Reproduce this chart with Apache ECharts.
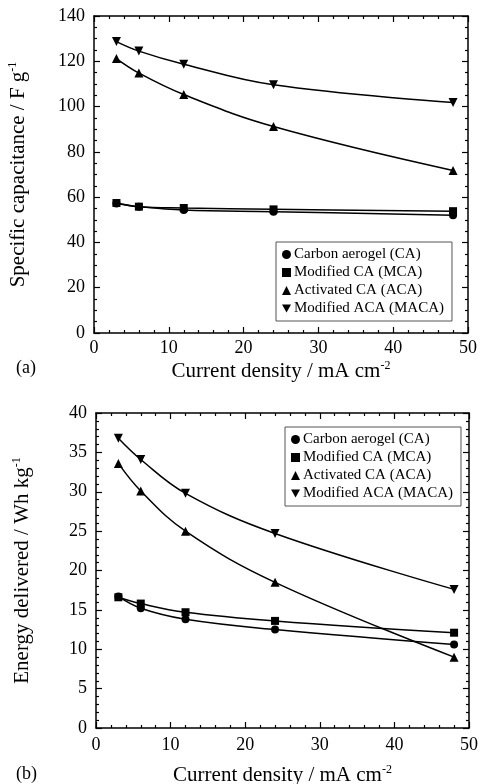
<!DOCTYPE html>
<html><head><meta charset="utf-8">
<script src="https://cdn.jsdelivr.net/npm/echarts@6/dist/echarts.min.js"></script>
<style>html,body{margin:0;padding:0;background:#fff}#c{width:484px;height:784px}</style>
</head><body><div id="c"></div>
<script>
const currentDensity = [3, 6, 12, 24, 48];
const seriesNames = ['Carbon aerogel (CA)', 'Modified CA (MCA)', 'Activated CA (ACA)', 'Modified ACA (MACA)'];
// (a) specific capacitance, F/g
const capCA   = [57.2, 55.8, 54.3, 53.6, 52.0];
const capMCA  = [57.4, 55.8, 55.2, 54.6, 53.8];
const capACA  = [121.2, 114.8, 105.3, 91.2, 71.8];
const capMACA = [128.7, 124.5, 118.7, 109.6, 101.8];
// (b) energy delivered, Wh/kg
const enCA   = [16.7, 15.2, 13.8, 12.5, 10.6];
const enMCA  = [16.6, 15.8, 14.7, 13.6, 12.1];
const enACA  = [33.6, 30.1, 25.0, 18.5, 9.0];
const enMACA = [36.8, 34.1, 29.8, 24.7, 17.6];

const FONT = 'Liberation Serif';
const invTri = 'path://M0,0 L10,0 L5,9 Z';
const symbols = ['circle', 'rect', 'triangle', invTri];
const symSizes = [8, 8, 9, 9];

function pairs(ys){ return currentDensity.map((x,i)=>[x, ys[i]]); }

function mkSeries(data, gi){
  return data.map((ys, k) => ({
    name: seriesNames[k], type: 'line', xAxisIndex: gi*2, yAxisIndex: gi*2,
    data: pairs(ys), smooth: 0.4, symbol: symbols[k], symbolSize: symSizes[k],
    lineStyle: {color: '#000', width: 1.5}, itemStyle: {color: '#000'},
    showSymbol: true, z: 3
  }));
}

const labelStyle = {color: '#000', fontFamily: FONT, fontSize: 18};
const richSup = {sup: {fontSize: 12, fontFamily: FONT, color: '#000', verticalAlign: 'top', padding: [0, 0, 11, 0]}};

function xAxes(gi, name, gap, margin){
  const base = {type: 'value', gridIndex: gi, min: 0, max: 50, interval: 10,
    axisLine: {onZero: false, lineStyle: {color: '#000', width: 1.5}},
    axisTick: {inside: true, length: 6, lineStyle: {color: '#000', width: 1.2}},
    minorTick: {show: true, splitNumber: 5, length: 3, lineStyle: {color: '#000', width: 1.2}},
    splitLine: {show: false}};
  return [
    Object.assign({}, base, {position: 'bottom', axisLabel: Object.assign({margin: margin}, labelStyle),
      name: name, nameLocation: 'middle', nameGap: gap,
      nameTextStyle: {color: '#000', fontFamily: FONT, fontSize: 21, rich: richSup}}),
    Object.assign({}, base, {position: 'top', axisLabel: {show: false}})
  ];
}
function yAxes(gi, max, interval, minorSplit, name, gap){
  const base = {type: 'value', gridIndex: gi, min: 0, max: max, interval: interval,
    axisLine: {onZero: false, lineStyle: {color: '#000', width: 1.5}},
    axisTick: {inside: true, length: 6, lineStyle: {color: '#000', width: 1.2}},
    minorTick: {show: true, splitNumber: minorSplit, length: 3, lineStyle: {color: '#000', width: 1.2}},
    splitLine: {show: false}};
  return [
    Object.assign({}, base, {position: 'left', axisLabel: Object.assign({margin: 9}, labelStyle),
      name: name, nameLocation: 'middle', nameGap: gap,
      nameTextStyle: {color: '#000', fontFamily: FONT, fontSize: 21, rich: richSup}}),
    Object.assign({}, base, {position: 'right', axisLabel: {show: false}})
  ];
}

function legend(gi, left, top){
  return {
    left: left, top: top, orient: 'vertical', itemGap: 3, itemWidth: 9, itemHeight: 9,
    padding: [5, 8, 5, 6], borderColor: '#555', borderWidth: 1, backgroundColor: '#fff',
    textStyle: {color: '#000', fontFamily: FONT, fontSize: 15, padding: [0,0,0,-2]},
    selectedMode: false,
    data: seriesNames.map((n,k)=>({name: n, icon: k===3 ? invTri : symbols[k]}))
  };
}

const chart = echarts.init(document.getElementById('c'), null, {renderer: 'canvas'});
chart.setOption({
  backgroundColor: '#fff',
  animation: false,
  grid: [
    {left: 94, top: 16, width: 374, height: 317, outerBoundsMode: 'none', containLabel: false},
    {left: 96, top: 413, width: 373, height: 315, outerBoundsMode: 'none', containLabel: false}
  ],
  xAxis: [...xAxes(0, 'Current density / mA cm{sup|-2}', 27, 6), ...xAxes(1, 'Current density / mA cm{sup|-2}', 36, 8)],
  yAxis: [...yAxes(0, 140, 20, 4, 'Specific capacitance / F g{sup|-1}', 64),
          ...yAxes(1, 40, 5, 5, 'Energy delivered / Wh kg{sup|-1}', 62)],
  legend: [legend(0, 276, 242), legend(1, 285, 427)],
  graphic: [
    {type: 'text', left: 16, top: 359, style: {text: '(a)', font: '18px "Liberation Serif"', fill: '#000'}},
    {type: 'text', left: 16, top: 765, style: {text: '(b)', font: '18px "Liberation Serif"', fill: '#000'}}
  ],
  series: [...mkSeries([capCA, capMCA, capACA, capMACA], 0), ...mkSeries([enCA, enMCA, enACA, enMACA], 1)]
});
</script></body></html>
